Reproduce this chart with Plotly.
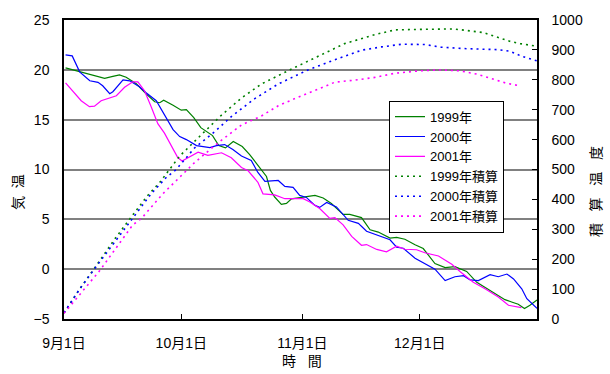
import plotly.graph_objects as go

# ---- data (day offset from Sep 1, value) ----
tick_days = [0, 30, 61, 91]
tick_text = ["9月1日", "10月1日", "11月1日", "12月1日"]

d1999 = [0.4, 2.3, 5.7, 8.2, 10.4, 12.5, 14.2, 15.9, 18.5, 21, 23.2, 24.5, 25.5, 27.9, 30, 31.3, 33.2, 35,
         36.4, 38, 39.6, 41.3, 43.3, 45.6, 47.5, 49, 50.5, 51.8, 52.8, 53.9, 55.6, 56.9, 58.2, 61.2, 64.2,
         66.3, 68.4, 71.4, 73.1, 76.1, 78.3, 80.4, 83.4, 85.1, 87.2, 89.8, 91.9, 94.9, 97.5, 100, 103, 105.6,
         107.7, 110.3, 112.8, 114.5, 116.2, 117.8, 119.2, 121]
t1999 = [20.2, 20.0, 19.6, 19.4, 19.15, 19.35, 19.5, 19.25, 18.6, 17.6, 16.8, 16.7, 16.95, 16.45, 15.95, 16.0,
         15.2, 14.2, 13.8, 13.4, 12.4, 12.17, 12.8, 12.3, 11.5, 10.7, 9.9, 9.3, 7.9, 7.24, 6.5, 6.6, 7.05,
         7.24, 7.4, 7.14, 6.58, 5.5, 5.5, 5.17, 3.95, 3.72, 3.12, 3.19, 3.0, 2.45, 2.07, 0.56, 0.16, 0.26,
         -0.23, -1.32, -1.81, -2.47, -3.06, -3.29, -3.52, -3.94, -3.62, -3.1]

d2000 = [0.4, 2.1, 4, 6.6, 8.7, 9.9, 11.7, 12.5, 15.1, 16.8, 19.3, 21, 23.6, 26.2, 27.9, 29.6, 31.3, 33.9, 37.3,
         39, 41.1, 43.2, 45.4, 47.9, 49.6, 51.4, 54.8, 56.5, 58.6, 60.3, 62, 64.2, 65.4, 67.2, 69.7, 72.7,
         75.3, 77.4, 80, 83.4, 85.1, 86.8, 89.8, 92.3, 94.9, 97.5, 100, 102.2, 103.9, 106, 109, 111.1, 113.3,
         115, 117.1, 118.4, 121]
t2000 = [21.5, 21.4, 19.8, 18.9, 18.75, 18.4, 17.6, 17.8, 19.0, 18.9, 18.3, 17.7, 16.9, 15.1, 14.0, 13.3, 13.0,
         12.4, 12.2, 12.4, 12.5, 12.0, 11.35, 10.9, 9.7, 8.8, 8.9, 8.3, 8.2, 7.4, 7.2, 6.4, 6.2, 6.7, 6.25,
         4.9, 4.6, 3.8, 3.45, 2.95, 2.2, 2.1, 1.1, 0.56, 0.0, -1.15, -0.76, -0.66, -1.08, -1.15, -0.56,
         -0.76, -0.49, -0.98, -1.97, -2.96, -3.94]

d2001 = [0.4, 2.3, 4.4, 6.5, 7.8, 9.5, 11.7, 13.4, 15.5, 17.6, 18.9, 20.6, 22.3, 24, 25.7, 27.9, 29.1, 30.2,
         31.7, 34.3, 36.8, 40.3, 42.8, 45.4, 47.1, 49.6, 50.9, 53.9, 56.5, 58.2, 61.2, 62.9, 65.4, 68, 69.3,
         71.4, 73.6, 76.1, 77.4, 80, 82.5, 85.1, 87.2, 90.2, 92.3, 95.8, 99.2, 101.3, 104.7, 107.7, 111.1,
         113.7, 116.2, 117]
t2001 = [18.7, 17.8, 16.9, 16.3, 16.35, 16.9, 17.2, 17.4, 18.25, 18.8, 18.8, 17.9, 16.3, 14.6, 13.65, 12.0,
         11.2, 10.86, 11.2, 11.74, 11.42, 11.68, 11.18, 10.2, 9.87, 8.72, 7.56, 7.46, 7.07, 7.07, 7.07, 6.74,
         6.08, 5.1, 5.17, 4.44, 3.29, 2.4, 2.47, 1.98, 1.74, 2.3, 2.0, 1.95, 1.65, 1.32, 0.5, -0.23, -1.32,
         -1.97, -2.8, -3.62, -3.85, -3.85]

cd1999 = [0, 4, 8.5, 13, 17.6, 21.2, 24.5, 27, 29.6, 33.4, 36.8, 40.3, 45.4, 50.5, 58.2, 65.9, 71.8, 79.5,
          84.7, 92.3, 99.8, 103, 107.3, 110.7, 114, 116.7, 121]
c1999 = [20, 100, 183, 268, 348, 410, 457, 501, 545, 594, 638, 682, 739, 786, 836, 885, 921, 951, 967, 969,
         970, 965, 958, 943, 929, 921, 912]

cd2000 = [0, 4, 8.5, 17.4, 22.3, 26.2, 28.7, 33.4, 38.6, 42.8, 48.8, 54.8, 62.4, 70.1, 76.1, 81.2, 86.4,
          92.3, 96.5, 103, 110.7, 114, 117, 121]
c2000 = [21, 100, 180, 336, 419, 474, 500, 572, 627, 677, 737, 786, 833, 871, 899, 910, 919, 918, 909, 904,
         901, 896, 879, 863]

cd2001 = [0, 9.1, 17.6, 19.8, 25.3, 30.4, 31.6, 33.4, 39.4, 45.4, 50.5, 54.8, 59, 64.2, 69.3, 74.4, 79.5,
          84.7, 91, 96.2, 101.3, 105.6, 109, 113.3, 116.7]
c2001 = [19, 161, 315, 336, 419, 485, 500, 523, 589, 649, 679, 713, 737, 764, 792, 799, 808, 822, 830, 833,
         830, 819, 806, 788, 780]

names = ["1999年", "2000年", "2001年"]
colors = ["#008000", "#0000FF", "#FF00FF"]

FONT = "Liberation Sans, Arial, Noto Sans CJK JP, sans-serif"

fig = go.Figure()
for name, col, dx, dy in zip(names, colors, [d1999, d2000, d2001], [t1999, t2000, t2001]):
    fig.add_trace(go.Scatter(x=dx, y=dy, mode="lines", name=name,
                             line=dict(color=col, width=1.2)))
for name, col, dx, dy in zip(names, colors, [cd1999, cd2000, cd2001], [c1999, c2000, c2001]):
    fig.add_trace(go.Scatter(x=dx, y=dy, mode="lines", name=name + "積算", yaxis="y2",
                             line=dict(color=col, width=1.6, dash="2px,4px")))

L, R, T, B = 64, 73, 15, 55
W, H = 610, 374
pw, ph = W - L - R, H - T - B

def px2x(px):
    return (px - L) / pw

def px2y(py):
    return (H - B - py) / ph

fig.update_layout(
    width=W, height=H,
    margin=dict(l=L, r=R, t=T, b=B, pad=0),
    paper_bgcolor="white", plot_bgcolor="white",
    font=dict(family=FONT, size=14, color="black"),
    showlegend=True,
    legend=dict(x=px2x(389), y=px2y(97), xanchor="left", yanchor="top",
                bgcolor="white", bordercolor="black", borderwidth=1,
                font=dict(size=13, family=FONT), tracegroupgap=0),
    xaxis=dict(range=[0, 121], tickvals=tick_days, ticktext=tick_text,
               showgrid=False, zeroline=False, showline=True, mirror=True,
               linecolor="black", linewidth=1.5, ticks="inside", ticklen=5,
               tickcolor="black", ticklabelstandoff=10, tickfont=dict(size=14)),
    yaxis=dict(range=[-5, 25], dtick=5, tick0=-5, showgrid=True, gridcolor="#808080",
               gridwidth=1.5, zeroline=False, showline=True, linecolor="black",
               linewidth=1.5, ticks="", ticklabelstandoff=10, tickfont=dict(size=14)),
    yaxis2=dict(range=[0, 1000], dtick=100, overlaying="y", side="right", showgrid=False,
                zeroline=False, showline=True, linecolor="black", linewidth=1.5,
                ticks="inside", ticklen=5, tickcolor="black", ticklabelstandoff=10,
                tickfont=dict(size=14)),
    annotations=[
        dict(text="気\u00a0\u00a0温", xref="paper", yref="paper", x=px2x(18), y=px2y(190),
             xanchor="center", yanchor="middle",
             textangle=-90, showarrow=False, font=dict(size=14)),
        dict(text="積\u00a0\u00a0\u00a0算\u00a0\u00a0\u00a0温\u00a0\u00a0\u00a0度", xref="paper", yref="paper",
             x=px2x(596), y=px2y(190), xanchor="center", yanchor="middle",
             textangle=-90, showarrow=False, font=dict(size=14)),
        dict(text="時\u00a0\u00a0\u00a0間", xref="paper", yref="paper", x=px2x(302), y=px2y(362),
             xanchor="center", yanchor="middle", showarrow=False, font=dict(size=14)),
    ],
)

fig.write_html("out.html")
